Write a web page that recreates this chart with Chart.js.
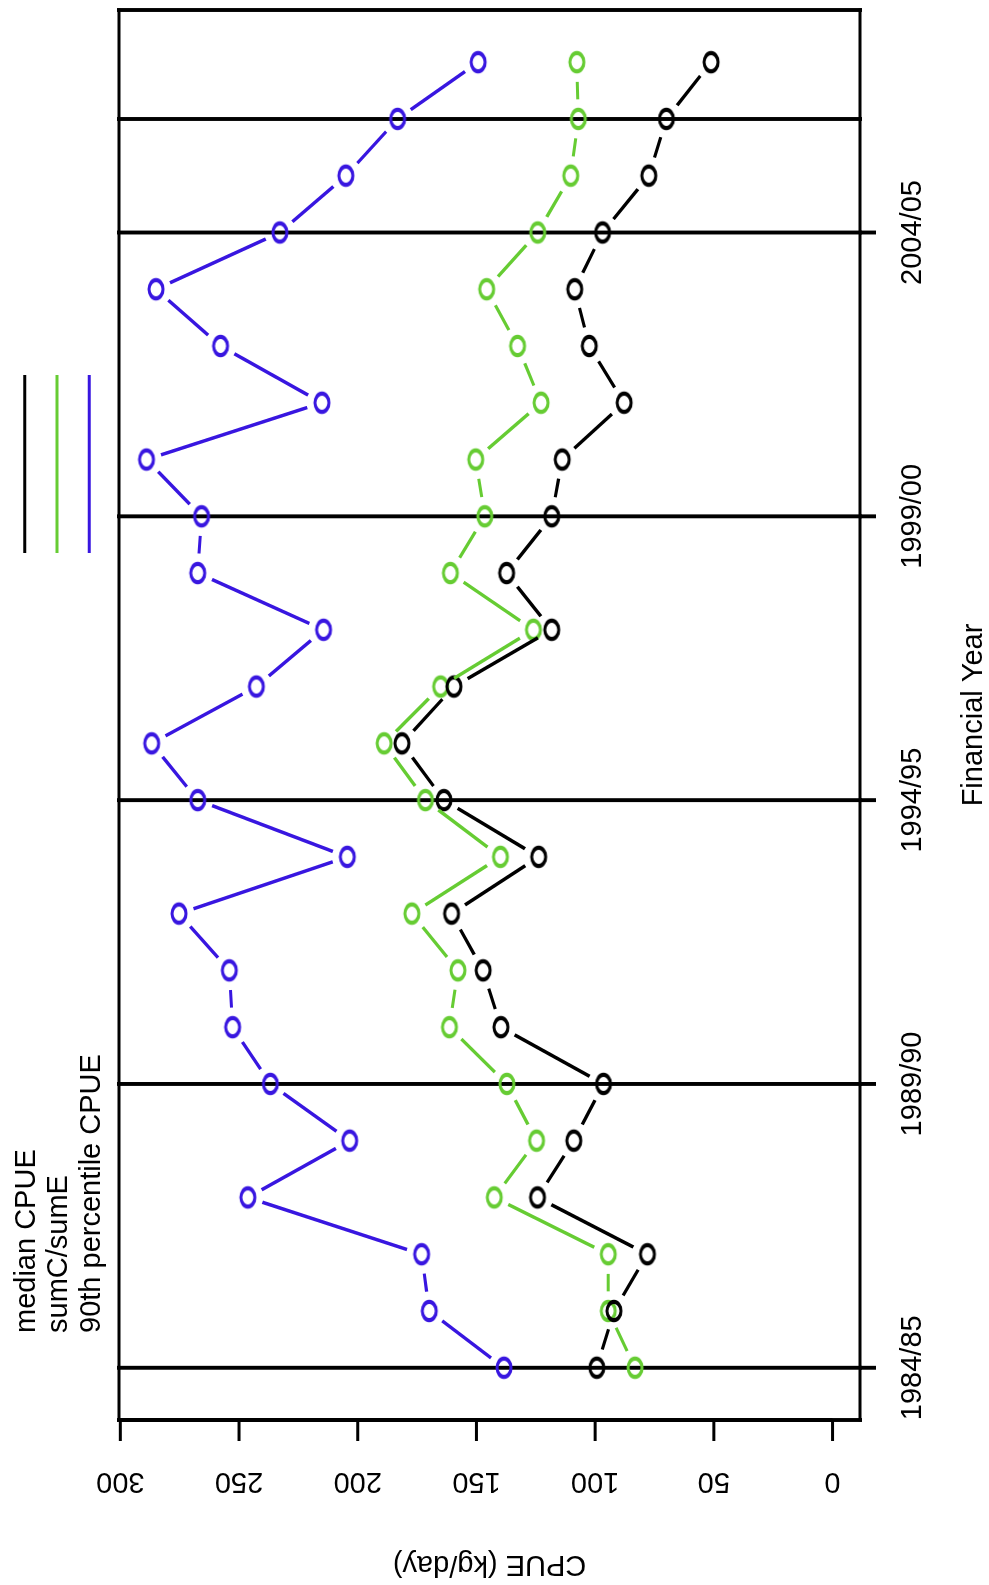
<!DOCTYPE html>
<html>
<head>
<meta charset="utf-8">
<title>CPUE by financial year</title>
<script src="https://cdn.jsdelivr.net/npm/chart.js@4.4.1/dist/chart.umd.min.js"></script>
<style>
  html, body { margin: 0; padding: 0; background: #fff; overflow: hidden; }
  /* the plot is drawn the usual way round and then turned a quarter turn */
  #wrap {
    position: absolute; left: 0; top: 0; width: 1585px; height: 989px;
    transform-origin: 0 0; transform: translate(0, 1585px) rotate(-90deg);
  }
</style>
</head>
<body>
<div id="wrap"><canvas id="cpueChart" width="1585" height="989"></canvas></div>
<script>
const years = ['1984/85', '1985/86', '1986/87', '1987/88', '1988/89', '1989/90',
               '1990/91', '1991/92', '1992/93', '1993/94', '1994/95', '1995/96',
               '1996/97', '1997/98', '1998/99', '1999/00', '2000/01', '2001/02',
               '2002/03', '2003/04', '2004/05', '2005/06', '2006/07', '2007/08'];

const medianCpue = [99.3, 92.1, 78.0, 124.3, 109.0, 96.5, 139.7, 147.2, 160.5, 123.8, 163.7, 181.4,
                    159.5, 118.3, 137.3, 118.3, 113.9, 87.8, 102.5, 108.6, 96.9, 77.4, 70.0, 51.2];
const sumCsumE = [83.2, 94.5, 94.5, 142.5, 124.7, 137.2, 161.4, 157.8, 177.2, 139.9, 171.5, 188.9,
                  165.1, 126.0, 161.0, 146.5, 150.3, 122.8, 132.7, 145.7, 124.2, 110.3, 107.1, 107.7];
const pct90Cpue = [138.4, 169.9, 173.1, 246.3, 203.4, 236.8, 252.7, 254.1, 275.3, 204.4, 267.4, 286.8,
                   242.7, 214.4, 267.4, 265.8, 289.0, 215.1, 257.8, 285.0, 232.8, 205.0, 183.2, 149.3];

const seriesNames = ['median CPUE', 'sumC/sumE', '90th percentile CPUE'];
const seriesColours = ['#000000', '#66cc33', '#3816e0'];

const yearTicks = ['1984/85', '1989/90', '1994/95', '1999/00', '2004/05'];
const markedYears = ['1984/85', '1989/90', '1994/95', '1999/00', '2004/05', '2006/07'];
const cpueTicks = [0, 50, 100, 150, 200, 250, 300];

const FONT = '29px "Liberation Sans", Arial, sans-serif';
const GAP = 15;          // gap left round each point (type="b" style)
const STRETCH = 1.31;    // marks come out wider along the year axis
const THIN = 3;          // strokes running along the year axis
const THICK = 3.9;       // strokes running across it

function makeMarker(colour) {
    const c = document.createElement('canvas');
    c.width = 30;
    c.height = 22;
    const g = c.getContext('2d');
    g.translate(15, 11);
    g.scale(STRETCH, 1);
    g.strokeStyle = colour;
    g.lineWidth = 3.2;
    g.beginPath();
    g.arc(0, 0, 7, 0, Math.PI * 2);
    g.stroke();
    return c;
}

function line(ctx, x1, y1, x2, y2, w) {
    ctx.lineWidth = w;
    ctx.beginPath();
    ctx.moveTo(x1, y1);
    ctx.lineTo(x2, y2);
    ctx.stroke();
}

// line segments between points, stopped short of each point
const gappedLines = {
    id: 'gappedLines',
    afterDatasetsDraw(chart) {
        const ctx = chart.ctx;
        chart.data.datasets.forEach((ds, i) => {
            const pts = chart.getDatasetMeta(i).data;
            ctx.save();
            ctx.strokeStyle = ds.borderColor;
            for (let k = 1; k < pts.length; k++) {
                const a = pts[k - 1], b = pts[k];
                const dx = b.x - a.x, dy = b.y - a.y;
                const len = Math.hypot(dx / STRETCH, dy);
                if (len <= 2 * GAP) continue;
                const f = GAP / len;
                // a bit heavier the more the segment runs across the year axis
                const w = THIN + (THICK - THIN) * Math.abs(dy) / Math.hypot(dx, dy) * 0.6;
                line(ctx, a.x + dx * f, a.y + dy * f, b.x - dx * f, b.y - dy * f, w);
            }
            ctx.restore();
        });
    }
};

const frame = {
    id: 'frame',
    beforeDatasetsDraw(chart) {
        const { ctx, chartArea: a, scales: { x } } = chart;
        ctx.save();
        ctx.strokeStyle = '#000';
        ctx.lineCap = 'square';
        markedYears.forEach(label => {
            const px = x.getPixelForValue(years.indexOf(label));
            line(ctx, px, a.top, px, a.bottom, THICK);
        });
        line(ctx, a.left, a.top, a.right, a.top, THIN);
        line(ctx, a.left, a.bottom, a.right, a.bottom, THIN);
        line(ctx, a.left, a.top, a.left, a.bottom, THICK);
        line(ctx, a.right, a.top, a.right, a.bottom, THICK);
        ctx.restore();
    },
    afterDraw(chart) {
        const { ctx, chartArea: a, scales: { x, y } } = chart;
        ctx.save();
        ctx.strokeStyle = '#000';
        ctx.fillStyle = '#000';
        ctx.font = FONT;
        ctx.textBaseline = 'alphabetic';

        // CPUE axis
        line(ctx, a.left, y.getPixelForValue(cpueTicks[0]),
             a.left, y.getPixelForValue(cpueTicks[cpueTicks.length - 1]), THICK);
        cpueTicks.forEach(v => {
            const py = y.getPixelForValue(v);
            line(ctx, a.left, py, a.left - 21, py, THIN);
            ctx.save();
            ctx.translate(a.left - 53, py);
            ctx.rotate(-Math.PI / 2);
            ctx.textAlign = 'center';
            ctx.fillText(String(v), 0, 0);
            ctx.restore();
        });
        ctx.save();
        ctx.translate(29, (a.top + a.bottom) / 2);
        ctx.rotate(-Math.PI / 2);
        ctx.textAlign = 'center';
        ctx.fillText('CPUE (kg/day)', 0, 0);
        ctx.restore();

        // year axis
        ctx.textAlign = 'center';
        yearTicks.forEach(label => {
            const px = x.getPixelForValue(years.indexOf(label));
            line(ctx, px, a.bottom, px, a.bottom + 16, THICK);
            ctx.fillText(label, px, 921);
        });
        ctx.fillText('Financial Year', (a.left + a.right) / 2, 982);

        // legend, in the top margin
        ctx.textAlign = 'left';
        chart.data.datasets.forEach((ds, i) => {
            const cy = 24.7 + i * 32.3;
            ctx.fillStyle = '#000';
            ctx.fillText(ds.label, 252, cy + 10.4);
            ctx.strokeStyle = ds.borderColor;
            line(ctx, 1032, cy, 1210, cy, THIN);
        });
        ctx.restore();
    }
};

const seriesValues = [medianCpue, sumCsumE, pct90Cpue];
const yTop = Math.max(...pct90Cpue);

new Chart(document.getElementById('cpueChart').getContext('2d'), {
    type: 'line',
    data: {
        datasets: seriesValues.map((vals, i) => ({
            label: seriesNames[i],
            data: vals.map((v, k) => ({ x: k, y: v })),
            borderColor: seriesColours[i],
            showLine: false,
            pointStyle: makeMarker(seriesColours[i]),
            pointRadius: 6
        }))
    },
    options: {
        responsive: false,
        animation: false,
        events: [],
        layout: { padding: { left: 165, right: 10, top: 119, bottom: 129 } },
        scales: {
            x: { type: 'linear', min: -0.04 * (years.length - 1), max: 1.04 * (years.length - 1), display: false },
            y: { type: 'linear', min: -0.04 * yTop, max: 1.04 * yTop, display: false }
        },
        plugins: {
            legend: { display: false },
            tooltip: { enabled: false }
        }
    },
    plugins: [frame, gappedLines]
});
</script>
</body>
</html>
